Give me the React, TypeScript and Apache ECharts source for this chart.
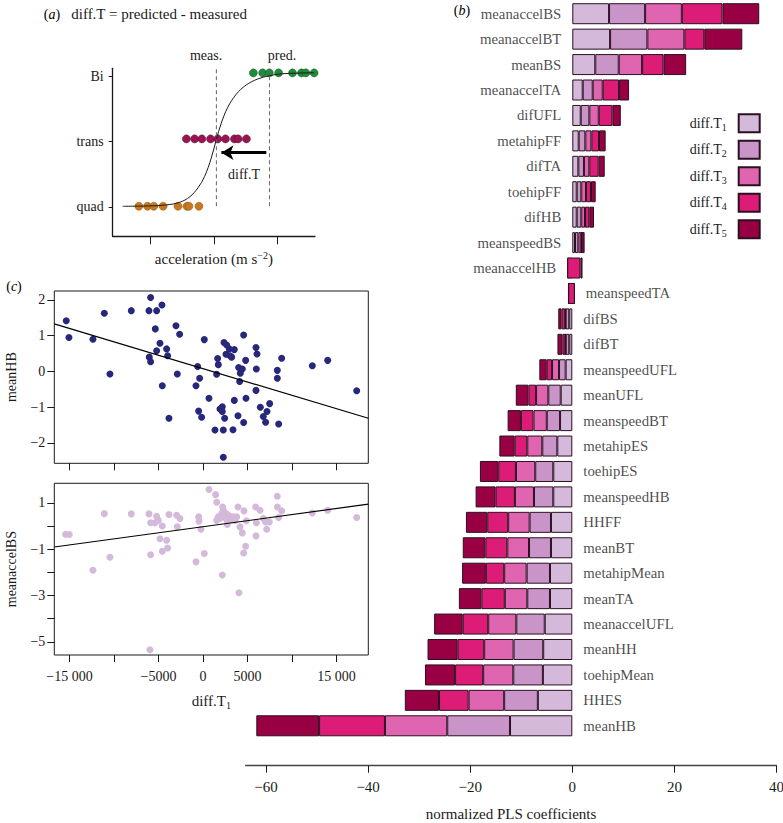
import React, { useEffect, useRef } from "react";
import * as echarts from "echarts";

const FONT = "Liberation Serif";
const INK = "#1a1a1a";

// ---------- panel (b): normalized PLS coefficients ----------
const categories = [
  "meanaccelBS", "meanaccelBT", "meanBS", "meanaccelTA", "difUFL", "metahipFF", "difTA",
  "toehipFF", "difHB", "meanspeedBS", "meanaccelHB", "meanspeedTA", "difBS", "difBT",
  "meanspeedUFL", "meanUFL", "meanspeedBT", "metahipES", "toehipES", "meanspeedHB", "HHFF",
  "meanBT", "metahipMean", "meanTA", "meanaccelUFL", "meanHH", "toehipMean", "HHES", "meanHB",
];
const t1 = [7.2, 7.4, 4.5, 2.04, 1.65, 1.25, 1.18, 0.86, 0.86, 0.53, -0.3, 0.1, -0.6, -0.59, -1.3, -2.27, -2.4, -2.94, -3.73, -3.73, -4.18, -4.18, -4.37, -4.37, -5.4, -5.7, -5.76, -6.75, -12.2];
const t2 = [7.06, 7.3, 4.6, 1.96, 1.69, 1.3, 1.1, 0.9, 0.9, 0.65, -0.3, 0.15, -0.7, -0.7, -1.3, -2.43, -2.6, -2.94, -3.53, -3.78, -4.18, -4.3, -4.57, -4.45, -5.57, -5.8, -5.8, -6.6, -12.3];
const t3 = [7.2, 7.25, 4.57, 1.96, 1.84, 1.18, 1.05, 0.92, 0.73, 0.59, -0.4, 0.25, -0.1, -0.05, -1.37, -2.4, -2.6, -2.94, -3.78, -3.73, -4.2, -4.25, -4.4, -4.4, -5.5, -5.76, -5.9, -6.96, -12.2];
const t4 = [7.96, 3.9, 4.18, 3.2, 2.67, 1.5, 1.84, 0.98, 0.84, 0.05, 2.6, -1.3, -0.7, -0.59, -1.04, -1.5, -2.47, -2.47, -3.47, -3.78, -4.1, -4.3, -3.6, -4.6, -5.0, -5.2, -5.5, -5.8, -12.9];
const t5 = [7.2, 7.45, 4.45, 1.96, 1.65, 1.3, 1.18, 0.92, 0.92, 0.59, 0.4, 0.1, -0.65, -0.98, -1.45, -2.47, -2.6, -3.0, -3.59, -3.92, -4.18, -4.43, -4.65, -4.4, -5.6, -5.9, -5.9, -6.7, -12.3];
const seriesNames = ["diff.T1", "diff.T2", "diff.T3", "diff.T4", "diff.T5"];
const barColors = ["#d4b9da", "#c994c7", "#df65b0", "#dd1c77", "#980043"];
const plsTicks = [-60, -40, -20, 0, 20, 40];

// ---------- panel (c): scatter plots against diff.T1 ----------
const hbX = [-15355, -15055, -12359, -11085, -10449, -8052, -6067, -5880, -5206, -4606, -5355, -5206, -4831, -6030, -5880, -4082, -3970, -4569, -3820, -3033, -2622, -2884, -599, -786, -375, -487, -150, 150, 674, 1348, 1535, 1648, 1723, 1910, 2172, 2172, 2434, 2284, 2284, 2359, 2659, 2959, 2584, 3033, 3221, 3520, 3371, 3520, 3932, 4007, 4120, 4195, 4419, 4569, 4569, 4794, 4831, 5955, 6067, 5992, 5955, 6442, 6778, 7040, 7190, 7490, 8351, 8351, 8838, 8501, 12284, 14006, 17264];
const hbY = [1.42, 0.95, 0.9, 1.63, -0.07, 1.7, 1.7, 2.07, 1.7, 1.86, 1.19, 0.58, 0.79, 0.4, 0.27, 0.63, 0.44, -0.4, -1.31, 1.28, 1.04, -0.07, 0.14, -0.4, -0.19, -1.11, -1.28, 0.89, -0.75, -1.64, -0.08, 0.36, 0.19, -1.05, -0.99, -1.12, -1.31, -1.64, -2.4, 0.81, 0.74, 0.63, 0.48, 0.44, 0.4, 0.61, -1.63, -0.81, -1.24, 0.11, -0.28, -0.05, 0.07, 1.02, -1.43, 0.31, -0.75, 0.67, 0.49, 0.07, -0.53, -1.0, -1.26, -1.42, -1.12, -0.9, 0.03, -0.19, 0.37, -1.47, 0.16, 0.31, -0.54];
const bsX = [-15430, -15018, -12359, -11085, -10449, -8052, -6067, -5880, -5393, -5206, -5018, -4569, -5880, -5955, -4831, -4082, -3970, -4569, -3820, -2959, -2584, -2884, -487, -449, -225, -786, 150, 674, 1423, 1535, 1535, 1723, 1910, 2097, 2209, 2284, 2359, 2584, 2659, 2846, 3033, 3221, 3408, 3595, 3782, 2734, 2172, 3932, 4157, 4419, 4045, 4606, 4794, 4569, 4869, 5917, 6404, 5992, 5955, 6778, 7040, 7153, 7453, 8351, 8351, 8838, 8501, 12284, 14006, 17264];
const bsY = [-0.36, -0.37, -1.91, 0.53, -1.35, 0.52, 0.52, 0.14, 0.14, 0.42, 0.24, 0.0, -1.24, -5.34, -0.55, -0.62, -0.95, -1.09, 0.49, 0.46, 0.32, -0.04, 0.39, 0.2, -0.14, -1.55, -1.19, 1.57, 1.35, 1.02, 0.24, 0.39, 0.32, 0.53, 0.82, 0.68, 0.39, 0.53, 0.27, 0.46, 0.39, 0.27, 0.39, 0.24, 0.39, 0.06, -2.12, 0.82, -0.04, -0.3, -2.88, 0.65, -0.88, -1.17, 0.22, 0.82, 0.68, 0.14, -0.43, 0.32, 0.17, -0.14, 0.17, 1.28, 0.82, 0.65, 0.36, 0.56, 0.68, 0.36];
const fitX = [-16700, 18570];
const hbFitY = [1.33, -1.31];
const bsFitY = [-0.91, 0.94];
const diffTicks = [-15000, -10000, -5000, 0, 5000, 10000, 15000];
const diffLabels = [-15000, -5000, 0, 5000, 15000];
const hbTicks = [-2, -1, 0, 1, 2];
const bsTicks = [-5, -4, -3, -2, -1, 0, 1];
const bsLabels = [-5, -3, -1, 1];

// ---------- panel (a): schematic ----------
const levelNames = ["quad", "trans", "Bi"]; // at y = 1, 2, 3
const quadX = [-1.186, -1.049, -0.95, -0.803, -0.567, -0.425, -0.394, -0.236];
const transX = [-0.435, -0.304, -0.189, -0.052, 0.063, 0.184, 0.326, 0.384, 0.515];
const biX = [0.625, 0.772, 0.877, 1.024, 1.244, 1.386, 1.455, 1.586];
const quadLevel = 1.01;
const transLevel = 2.04;
const biLevel = 3.05;
const curveX = [-1.443, -1.013, -0.75, -0.54, -0.383, -0.252, -0.146, -0.041, 0.038, 0.117, 0.22, 0.353, 0.51, 0.693, 0.877, 1.087, 1.35, 1.586];
const curveY = [1.009, 1.015, 1.03, 1.07, 1.152, 1.29, 1.466, 1.747, 2.026, 2.28, 2.524, 2.722, 2.864, 2.956, 3.006, 3.037, 3.047, 3.052];
const measX = 0.04;
const predX = 0.88;
const arrowY = 1.83;
const arrowFrom = 0.83;
const arrowTo = 0.12;

const minus = (v: number) => (v < 0 ? "\u2212" : "") + String(Math.abs(v));
const thousands = (v: number) => {
  const a = Math.abs(v);
  const s = a >= 10000 ? `${Math.floor(a / 1000)} ${String(a % 1000).padStart(3, "0")}` : String(a);
  return (v < 0 ? "\u2212" : "") + s;
};

const mkRich = (size: number) => ({
  b: { fontFamily: FONT, fontSize: size, color: INK, lineHeight: 18 },
  s: { fontFamily: FONT, fontSize: 10, color: INK, lineHeight: 10, verticalAlign: "bottom" as const },
  p: { fontFamily: FONT, fontSize: 10, color: INK, lineHeight: 10, verticalAlign: "top" as const },
  n: { fontFamily: FONT, fontSize: size, color: INK },
  i: { fontFamily: FONT, fontSize: size, color: INK, fontStyle: "italic" as const },
});
const rich14 = mkRich(14);
const rich15 = mkRich(15);

function buildOption() {
  const stacks = categories.map((_, i) => [t1[i], t2[i], t3[i], t4[i], t5[i]]);
  const labelData = categories.map((c, i) => {
    let s = 0, lo = 0, hi = 0;
    for (const v of stacks[i]) { s += v; lo = Math.min(lo, s); hi = Math.max(hi, s); }
    return { value: [s > 0 ? lo : hi, c], label: { position: s > 0 ? "left" : "right" } };
  });
  const tValues = [t1, t2, t3, t4, t5];

  const axisLine = { show: true, onZero: false, lineStyle: { color: INK, width: 1 } };
  const noLine = { show: false, onZero: false };
  const tick = (vals: number[], len: number) => ({ show: true, customValues: vals, length: len, lineStyle: { color: INK, width: 1 } });
  const lbl = { fontFamily: FONT, fontSize: 14, color: INK };

  return {
    animation: false,
    textStyle: { fontFamily: FONT, color: INK },
    grid: [
      { left: 112.7, top: 68.3, width: 202.3, height: 168, outerBoundsMode: "none" },
      { left: 245.6, top: 1, width: 530.9, height: 737.5, outerBoundsMode: "none" },
      { left: 54.3, top: 291, width: 314, height: 172.3, show: true, borderColor: INK, borderWidth: 1, outerBoundsMode: "none" },
      { left: 54.3, top: 483.3, width: 314, height: 171.7, show: true, borderColor: INK, borderWidth: 1, outerBoundsMode: "none" },
    ],
    xAxis: [
      {
        gridIndex: 0, type: "value", min: -1.6, max: 1.6, axisLine: { ...axisLine, lineStyle: { color: INK, width: 1.3 } },
        axisTick: tick([-1, 0, 1], 8), axisLabel: { show: false }, splitLine: { show: false },
        name: "{b|acceleration (m s}{p|\u22122}{b|)}", nameLocation: "middle", nameGap: 14,
        nameTextStyle: { rich: rich15 },
      },
      {
        gridIndex: 1, type: "value", min: -64, max: 40, offset: 27.2, axisLine: { ...axisLine, lineStyle: { color: "#444", width: 1.3 } },
        axisTick: tick(plsTicks, 7), axisLabel: { fontFamily: FONT, fontSize: 15, color: INK, customValues: plsTicks, formatter: minus, margin: 14 },
        splitLine: { show: false },
        name: "normalized PLS coefficients", nameLocation: "middle", nameGap: 41,
        nameTextStyle: { fontFamily: FONT, fontSize: 15, color: INK },
      },
      {
        gridIndex: 2, type: "value", min: -16700, max: 18570, axisLine: noLine,
        axisTick: tick(diffTicks, 7), axisLabel: { show: false }, splitLine: { show: false },
      },
      {
        gridIndex: 3, type: "value", min: -16700, max: 18570, axisLine: noLine,
        axisTick: tick(diffTicks, 7), axisLabel: { ...lbl, customValues: diffLabels, formatter: thousands, margin: 14 },
        splitLine: { show: false },
        name: "{b|diff.T}{s|1}", nameLocation: "middle", nameGap: 37, nameTextStyle: { rich: rich15 },
      },
    ],
    yAxis: [
      {
        gridIndex: 0, type: "value", min: 0.55, max: 3.12, axisLine: { ...axisLine, lineStyle: { color: INK, width: 1.3 } },
        axisTick: tick([1, 2, 3], 4),
        axisLabel: { ...lbl, customValues: [1, 2, 3], formatter: (v: number) => levelNames[Math.round(v) - 1], margin: 9 },
        splitLine: { show: false },
      },
      { gridIndex: 1, type: "category", data: categories, inverse: true, show: false },
      {
        gridIndex: 2, type: "value", min: -2.57, max: 2.25, axisLine: noLine,
        axisTick: tick(hbTicks, 7), axisLabel: { ...lbl, customValues: hbTicks, formatter: minus, margin: 9 },
        splitLine: { show: false },
        name: "meanHB", nameLocation: "middle", nameGap: 36, nameRotate: 90,
        nameTextStyle: { fontFamily: FONT, fontSize: 14, color: INK },
      },
      {
        gridIndex: 3, type: "value", min: -5.57, max: 1.84, axisLine: noLine,
        axisTick: tick(bsTicks, 7), axisLabel: { ...lbl, customValues: bsLabels, formatter: minus, margin: 9 },
        splitLine: { show: false },
        name: "meanaccelBS", nameLocation: "middle", nameGap: 36, nameRotate: 90,
        nameTextStyle: { fontFamily: FONT, fontSize: 14, color: INK },
      },
    ],
    legend: {
      orient: "vertical", right: 22.3, top: 113.3, padding: 0, align: "right", icon: "rect",
      itemWidth: 21, itemHeight: 18, itemGap: 6.5, selectedMode: false,
      data: seriesNames,
      formatter: (name: string) => `{b|diff.T}{s|${name.slice(-1)}}`,
      textStyle: { fontFamily: FONT, fontSize: 14, color: INK, padding: [0, 7, 0, 0], rich: rich14 },
    },
    series: [
      // panel (a)
      {
        type: "line", xAxisIndex: 0, yAxisIndex: 0, smooth: 0.35, showSymbol: false, silent: true,
        data: curveX.map((x, i) => [x, curveY[i]]), lineStyle: { color: INK, width: 1 },
        markLine: {
          silent: true, symbol: ["none", "arrow"], symbolSize: [11, 12],
          lineStyle: { color: "#000", width: 3.2, type: "solid" }, label: { show: false },
          data: [[{ coord: [arrowFrom, arrowY] }, { coord: [arrowTo, arrowY] }]],
        },
      },
      {
        type: "line", xAxisIndex: 0, yAxisIndex: 0, showSymbol: false, silent: true,
        data: [[measX, quadLevel], [measX, 3.12]], lineStyle: { color: "#666", width: 1, type: [4, 3] },
      },
      {
        type: "line", xAxisIndex: 0, yAxisIndex: 0, showSymbol: false, silent: true,
        data: [[predX, quadLevel], [predX, 3.12]], lineStyle: { color: "#666", width: 1, type: [4, 3] },
      },
      {
        type: "scatter", xAxisIndex: 0, yAxisIndex: 0, symbolSize: 8,
        data: quadX.map((x) => [x, quadLevel]), itemStyle: { color: "#c8791f", borderColor: "#8a5210", borderWidth: 0.5, opacity: 1 },
      },
      {
        type: "scatter", xAxisIndex: 0, yAxisIndex: 0, symbolSize: 8,
        data: transX.map((x) => [x, transLevel]), itemStyle: { color: "#981552", borderColor: "#5e0a32", borderWidth: 0.5, opacity: 1 },
      },
      {
        type: "scatter", xAxisIndex: 0, yAxisIndex: 0, symbolSize: 8,
        data: biX.map((x) => [x, biLevel]), itemStyle: { color: "#1f8b3b", borderColor: "#0f5a24", borderWidth: 0.5, opacity: 1 },
      },
      // panel (b)
      ...seriesNames.map((name, k) => ({
        type: "bar", name, xAxisIndex: 1, yAxisIndex: 1, stack: "pls", stackStrategy: "all",
        barWidth: 21, data: tValues[k],
        itemStyle: { color: barColors[k], borderColor: "#2a1020", borderWidth: 1 },
      })),
      {
        type: "scatter", xAxisIndex: 1, yAxisIndex: 1, symbolSize: 0, silent: true,
        data: labelData,
        label: {
          show: true, distance: 11, fontFamily: FONT, fontSize: 14.8, color: INK,
          formatter: (p: any) => p.value[1],
        },
      },
      // panel (c)
      {
        type: "scatter", xAxisIndex: 2, yAxisIndex: 2, symbolSize: 7,
        data: hbX.map((x, i) => [x, hbY[i]]), itemStyle: { color: "#27277b", opacity: 1 },
      },
      {
        type: "line", xAxisIndex: 2, yAxisIndex: 2, showSymbol: false, silent: true,
        data: fitX.map((x, i) => [x, hbFitY[i]]), lineStyle: { color: "#000", width: 1.2 },
      },
      {
        type: "scatter", xAxisIndex: 3, yAxisIndex: 3, symbolSize: 7,
        data: bsX.map((x, i) => [x, bsY[i]]), itemStyle: { color: "#d4b9da", opacity: 1 },
      },
      {
        type: "line", xAxisIndex: 3, yAxisIndex: 3, showSymbol: false, silent: true,
        data: fitX.map((x, i) => [x, bsFitY[i]]), lineStyle: { color: "#000", width: 1.2 },
      },
    ],
    graphic: [
      { type: "text", x: 52, y: 14, style: { text: "{n|(}{i|a}{n|)}", rich: rich14, align: "center", verticalAlign: "middle" } },
      { type: "text", x: 247, y: 14, style: { text: "diff.T = predicted - measured", fontFamily: FONT, fontSize: 15, fill: INK, align: "right", verticalAlign: "middle" } },
      { type: "text", x: 206, y: 55, style: { text: "meas.", fontFamily: FONT, fontSize: 14, fill: INK, align: "center", verticalAlign: "middle" } },
      { type: "text", x: 282, y: 55, style: { text: "pred.", fontFamily: FONT, fontSize: 14, fill: INK, align: "center", verticalAlign: "middle" } },
      { type: "text", x: 244, y: 174, style: { text: "diff.T", fontFamily: FONT, fontSize: 14, fill: INK, align: "center", verticalAlign: "middle" } },
      { type: "text", x: 462, y: 10, style: { text: "{n|(}{i|b}{n|)}", rich: rich14, align: "center", verticalAlign: "middle" } },
      { type: "text", x: 14, y: 286, style: { text: "{n|(}{i|c}{n|)}", rich: rich14, align: "center", verticalAlign: "middle" } },
    ],
  };
}

export default function App() {
  const ref = useRef<HTMLDivElement>(null);
  useEffect(() => {
    if (!ref.current) return;
    const chart = echarts.init(ref.current, null, { renderer: "svg" });
    chart.setOption(buildOption() as any);
    return () => chart.dispose();
  }, []);
  return (
    <div
      ref={ref}
      style={{ position: "fixed", left: 0, top: 0, width: 783, height: 823, background: "#fff" }}
    />
  );
}
